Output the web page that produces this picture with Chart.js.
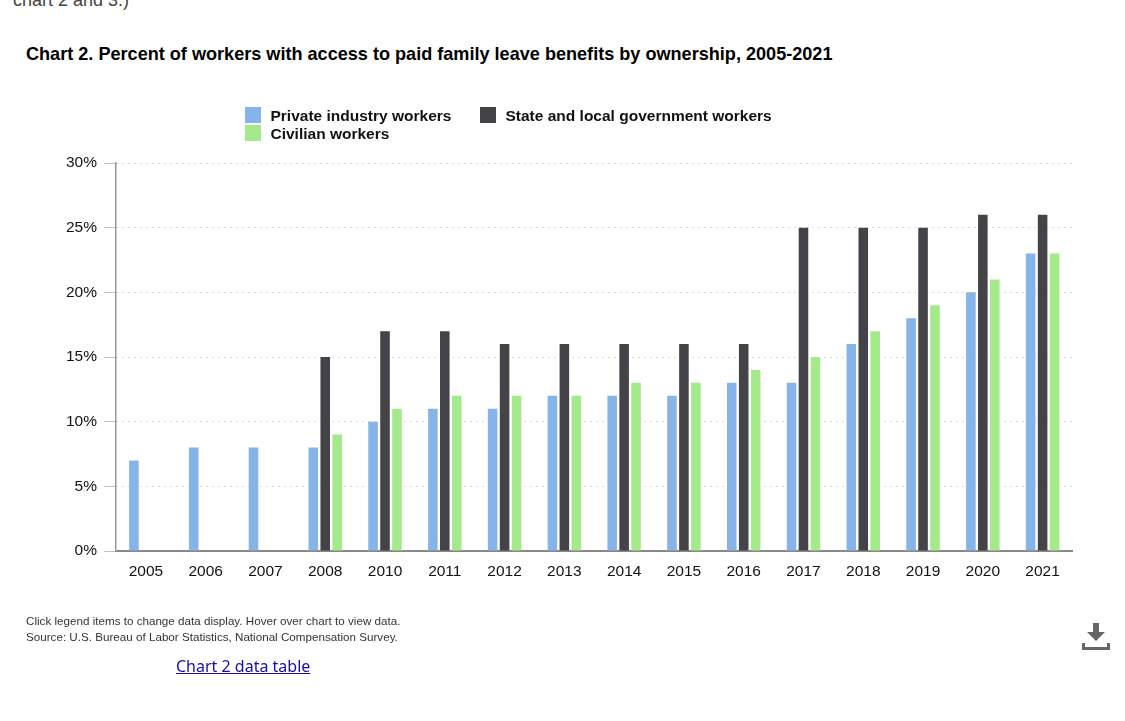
<!DOCTYPE html>
<html>
<head>
<meta charset="utf-8">
<title>Chart 2</title>
<script src="https://cdn.jsdelivr.net/npm/chart.js@4"></script>
<style>
  html, body { margin: 0; padding: 0; background: #fff; overflow: hidden; }
  body { position: relative; width: 1125px; height: 721px; font-family: "Liberation Sans", Arial, sans-serif; }
  #wrap { position: absolute; left: 0; top: 0; width: 1125px; height: 721px; }
  .top-note { position: absolute; left: 13px; top: -10px; font-size: 18px; line-height: 20px; color: #444; }
  h2 { position: absolute; left: 26px; top: 44px; margin: 0; font-size: 18.1px; line-height: 20px; color: #000; white-space: nowrap; }
  #legend { position: absolute; left: 245px; top: 106px; display: grid; grid-template-columns: 235px auto; grid-auto-rows: 18px; }
  .item { display: flex; align-items: center; padding-top: 1px; font-size: 15.500px; font-weight: bold; color: #111; cursor: pointer; white-space: nowrap; }
  .item i { width: 16px; height: 16px; margin: -1px 9.500px 0 0; display: block; }
  .item.off { color: #ccc; }
  .foot { position: absolute; left: 26px; top: 613px; font-size: 11.650px; line-height: 16px; color: #333; }
  a { position: absolute; left: 176px; top: 654px; font-family: "Noto Sans", sans-serif; font-size: 16px; line-height: 24px; color: #1a0dab; }
  svg { position: absolute; left: 1081px; top: 621px; }
</style>
</head>
<body>
<div class="top-note">chart 2 and 3.)</div>
<h2>Chart 2. Percent of workers with access to paid family leave benefits by ownership, 2005-2021</h2>
<div id="wrap"><canvas id="leaveChart" width="1125" height="721"></canvas></div>
<div id="legend"></div>
<div class="foot">Click legend items to change data display. Hover over chart to view data.<br>Source: U.S. Bureau of Labor Statistics, National Compensation Survey.</div>
<a href="#">Chart 2 data table</a>
<svg width="30" height="30" viewBox="0 0 30 30">
  <path d="M12 2h6v9h6l-9 9-9-9h6z" fill="#666"/>
  <path d="M2.500 22v5.500h25V22" fill="none" stroke="#666" stroke-width="3"/>
</svg>
<script>
const years = ['2005', '2006', '2007', '2008', '2010', '2011', '2012', '2013', '2014', '2015', '2016', '2017', '2018', '2019', '2020', '2021'];
const privateWorkers = [7, 8, 8, 8, 10, 11, 11, 12, 12, 12, 13, 13, 16, 18, 20, 23];
const governmentWorkers = [null, null, null, 15, 17, 17, 16, 16, 16, 16, 16, 25, 25, 25, 26, 26];
const civilianWorkers = [null, null, null, 9, 11, 12, 12, 12, 13, 13, 14, 15, 17, 19, 21, 23];
const yTicks = [0, 5, 10, 15, 20, 25, 30];

const tickFont = { family: '"Liberation Sans", Arial, sans-serif', size: 15.5 };

const chart = new Chart(document.getElementById('leaveChart').getContext('2d'), {
  type: 'bar',
  data: {
    labels: years,
    datasets: [
      { label: 'Private industry workers', data: privateWorkers, backgroundColor: '#86b4e9' },
      { label: 'State and local government workers', data: governmentWorkers, backgroundColor: '#434348' },
      { label: 'Civilian workers', data: civilianWorkers, backgroundColor: '#a4e98a' }
    ]
  },
  options: {
    responsive: false,
    animation: false,
    categoryPercentage: 0.6,
    barPercentage: 0.8,
    layout: { padding: { top: 163, right: 52.5, left: 0, bottom: 0 } },
    plugins: { legend: { display: false }, title: { display: false } },
    scales: {
      x: {
        grid: { display: false },
        border: { color: '#888', width: 2 },
        ticks: { color: '#111', font: tickFont, padding: 3, maxRotation: 0, autoSkip: false },
        afterFit: function (scale) { scale.height = 170; }
      },
      y: {
        min: 0,
        max: 30,
        afterBuildTicks: function (scale) { scale.ticks = yTicks.map(function (v) { return { value: v }; }); },
        grid: { color: '#b0b0b0', tickColor: '#c0c0c0', tickLength: 12, tickBorderDash: [], lineWidth: 1 },
        border: { color: '#999', width: 1.5, dash: [1, 5] },
        ticks: {
          color: '#111',
          font: tickFont,
          padding: 7,
          callback: function (v) { return v + '%'; }
        },
        afterFit: function (scale) { scale.width = 116; }
      }
    }
  }
});

// legend sits in the page, same as the original
const legend = document.getElementById('legend');
chart.data.datasets.forEach(function (ds, i) {
  const item = document.createElement('div');
  item.className = 'item';
  item.innerHTML = '<i style="background:' + ds.backgroundColor + '"></i>' + ds.label;
  item.addEventListener('click', function () {
    const shown = chart.isDatasetVisible(i);
    chart.setDatasetVisibility(i, !shown);
    item.classList.toggle('off', shown);
    chart.update();
  });
  legend.appendChild(item);
});
</script>
</body>
</html>
